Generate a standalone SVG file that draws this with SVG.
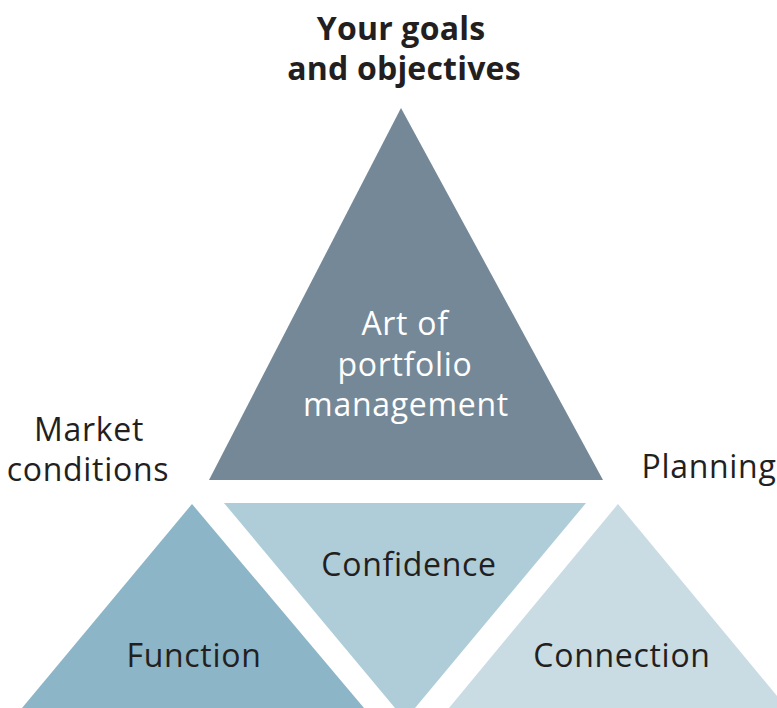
<svg xmlns="http://www.w3.org/2000/svg" width="777" height="708" viewBox="0 0 777 708">
<style>
text{font-family:"Open Sans","Noto Sans","Liberation Sans",sans-serif;font-size:32px;letter-spacing:0.7px;fill:#231f20;text-anchor:middle}
.w{fill:#ffffff}
.b{font-weight:700;letter-spacing:0.2px}
</style>
<rect width="777" height="708" fill="#ffffff"/>
<g id="top">
<polygon points="401,108 209,480 603,480" fill="#758898"/>
<text class="w" x="405" y="335">Art of</text>
<text class="w" x="405" y="376">portfolio</text>
<text class="w" x="406" y="416">management</text>
</g>
<g id="function">
<polygon points="192,504 22,708 364,708" fill="#8cb5c7"/>
<text x="194" y="667">Function</text>
</g>
<g id="confidence">
<polygon points="224,503 586,503 405,720 " fill="#afcdd8"/>
<text x="409" y="576">Confidence</text>
</g>
<g id="connection">
<polygon points="618,504 449,708 787,708" fill="#c9dbe3"/>
<text x="622" y="667">Connection</text>
</g>
<g id="goals">
<text class="b" x="401" y="40">Your goals</text>
<text class="b" x="404" y="80">and objectives</text>
</g>
<g id="market">
<text x="89" y="441">Market</text>
<text x="88" y="481">conditions</text>
</g>
<g id="planning">
<text x="709" y="478">Planning</text>
</g>
<g id="connectors"></g>
</svg>
